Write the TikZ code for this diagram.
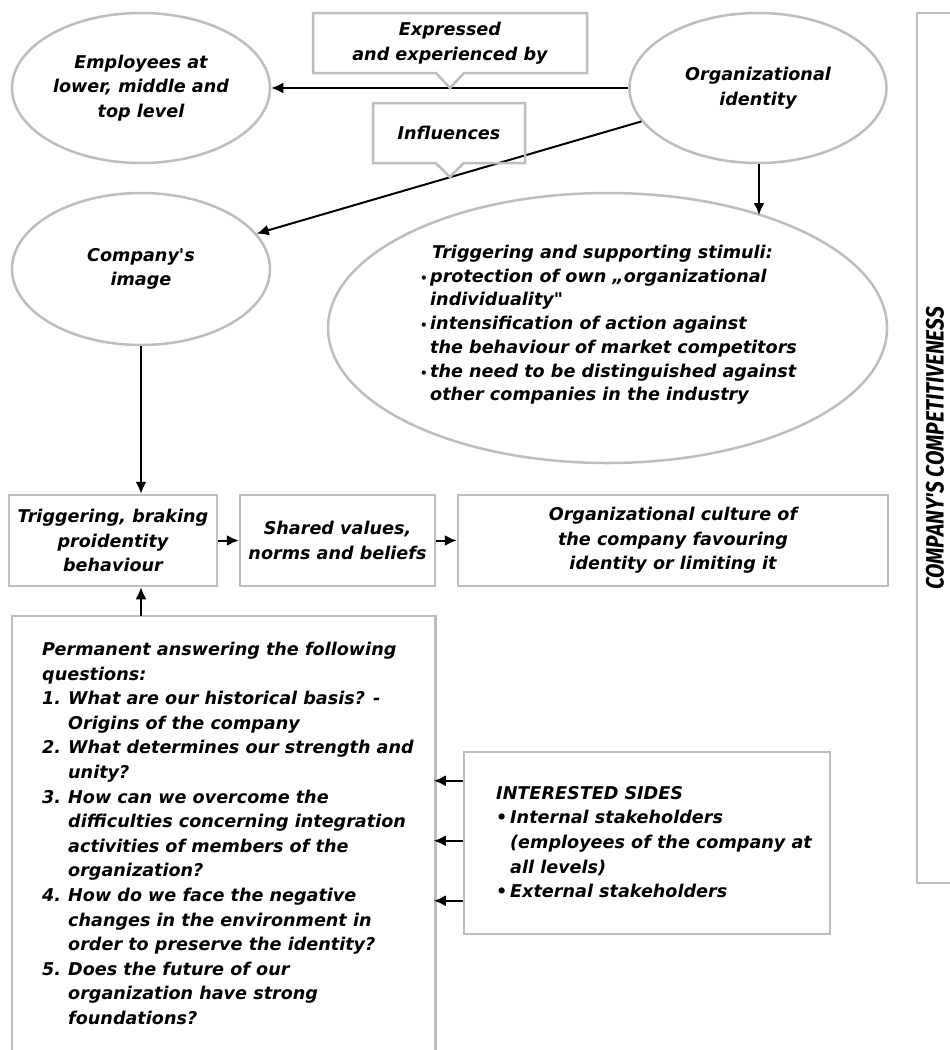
\documentclass[tikz,border=0pt]{standalone}
\usepackage{fontspec}
\setmainfont{DejaVu Sans}[Ligatures=TeXOff]
\newfontfamily\firafont{Fira Sans}[Ligatures=TeXOff]
\usetikzlibrary{shapes.geometric,shapes.callouts,arrows.meta,calc}
\definecolor{bordergray}{RGB}{190,190,190}
\newcommand{\fs}{\fontsize{17.6}{24.6}\selectfont\bfseries\itshape}
\newcommand{\fsb}{\fontsize{17.6}{23.7}\selectfont\bfseries\itshape}
\tikzset{
  boxline/.style={draw=bordergray, line width=2.5pt},
  ell/.style={ellipse, boxline, inner sep=0pt},
  rbox/.style={rectangle, boxline, inner sep=0pt, align=center, font=\fs},
  callbox/.style={rectangle callout, boxline, inner sep=0pt, align=center, font=\fs, callout pointer width=28pt},
  arr/.style={line width=2pt, -{Latex[length=12pt,width=11pt]}},
  txt/.style={font=\fs, inner sep=0pt}
}
\begin{document}
\begin{tikzpicture}[x=1pt,y=-1pt]
\useasboundingbox (0,0) rectangle (950,1050);
\fill[white] (0,0) rectangle (950,1050);

% ellipses
\node[ell, minimum width=258pt, minimum height=150pt, align=center, font=\fs] (emp) at (141,88) {Employees at\\lower, middle and\\top level};
\node[ell, minimum width=257pt, minimum height=150pt, align=center, font=\fs] (org) at (758,88) {Organizational\\identity};
\node[ell, minimum width=258pt, minimum height=152pt, align=center, font=\fs] (comp) at (141,269) {Company's\\image};
\node[ell, minimum width=559pt, minimum height=270pt] (stim) at (607.5,328) {};
\node[txt, font=\fsb, align=left, anchor=north west] (stimtext) at (420,245) {\hspace*{12pt}Triggering and supporting stimuli:\\
\makebox[10pt][l]{\fontsize{12}{12}\selectfont•}protection of own „organizational\\
\hspace*{10pt}individuality"\\
\makebox[10pt][l]{\fontsize{12}{12}\selectfont•}intensification of action against\\
\hspace*{10pt}the behaviour of market competitors\\
\makebox[10pt][l]{\fontsize{12}{12}\selectfont•}the need to be distinguished against\\
\hspace*{10pt}other companies in the industry};

% connectors at top
\draw[arr] (org.west) -- (emp.east);
\draw[arr] (org.196) -- (comp.17);
\coordinate (stimtop) at (759,215);
\draw[arr] (org.south -| stimtop) -- (stimtop);

% callouts
\node[callbox, minimum width=274pt, minimum height=60pt, callout absolute pointer={(450,88)}] (expr) at (450,43) {Expressed\\and experienced by};
\node[callbox, minimum width=152pt, minimum height=60pt, callout absolute pointer={(450,177)}] (infl) at (449,133) {Influences};

% middle row
\node[rbox, minimum width=208pt, minimum height=91pt] (trig) at (113,540.5) {Triggering, braking\\proidentity\\behaviour};
\node[rbox, minimum width=195pt, minimum height=91pt] (shared) at (337.5,540.5) {Shared values,\\norms and beliefs};
\node[rbox, minimum width=430pt, minimum height=91pt] (cult) at (673,540.5) {Organizational culture of\\the company favouring\\identity or limiting it};
\draw[arr] (comp.south) -- (comp.south |- trig.north);
\draw[arr] (trig.east) -- (shared.west);
\draw[arr] (shared.east) -- (cult.west);

% permanent box (open at bottom)
\node[minimum width=423pt, minimum height=460pt, anchor=north west, inner sep=0pt] (perm) at (12,616) {};
\draw[boxline] (perm.south west) -- (perm.north west) -- (perm.north east) -- (perm.south east);
\node[txt, align=left, anchor=north west] (permtext) at (42,642) {Permanent answering the following\\
questions:\\
\makebox[26pt][l]{1.}What are our historical basis? -\\
\hspace*{26pt}Origins of the company\\
\makebox[26pt][l]{2.}What determines our strength and\\
\hspace*{26pt}unity?\\
\makebox[26pt][l]{3.}How can we overcome the\\
\hspace*{26pt}difficulties concerning integration\\
\hspace*{26pt}activities of members of the\\
\hspace*{26pt}organization?\\
\makebox[26pt][l]{4.}How do we face the negative\\
\hspace*{26pt}changes in the environment in\\
\hspace*{26pt}order to preserve the identity?\\
\makebox[26pt][l]{5.}Does the future of our\\
\hspace*{26pt}organization have strong\\
\hspace*{26pt}foundations?};
\draw[arr] (comp.south |- perm.north) -- (comp.south |- trig.south);

% interested sides
\node[rectangle, boxline, minimum width=366pt, minimum height=182pt, inner sep=0pt] (intr) at (647,843) {};
\node[txt, align=left, anchor=north west] (intrtext) at (496,786) {INTERESTED SIDES\\
\makebox[14pt][l]{•}Internal stakeholders\\
\hspace*{14pt}(employees of the company at\\
\hspace*{14pt}all levels)\\
\makebox[14pt][l]{•}External stakeholders};
\draw[arr] ($(intr.north west)+(0,30)$) -- ++(-29,0);
\draw[arr] ($(intr.north west)+(0,90)$) -- ++(-29,0);
\draw[arr] ($(intr.north west)+(0,150)$) -- ++(-29,0);

% competitiveness
\node[rectangle, boxline, minimum width=53pt, minimum height=870pt, inner sep=0pt] (compet) at (943.5,448) {};
\node[inner sep=0pt, rotate=90, font=\fontsize{25}{28}\firafont\bfseries\itshape] (compettext) at (935,448.5) {\scalebox{0.84}[1]{COMPANY'S COMPETITIVENESS}};
\end{tikzpicture}
\end{document}
